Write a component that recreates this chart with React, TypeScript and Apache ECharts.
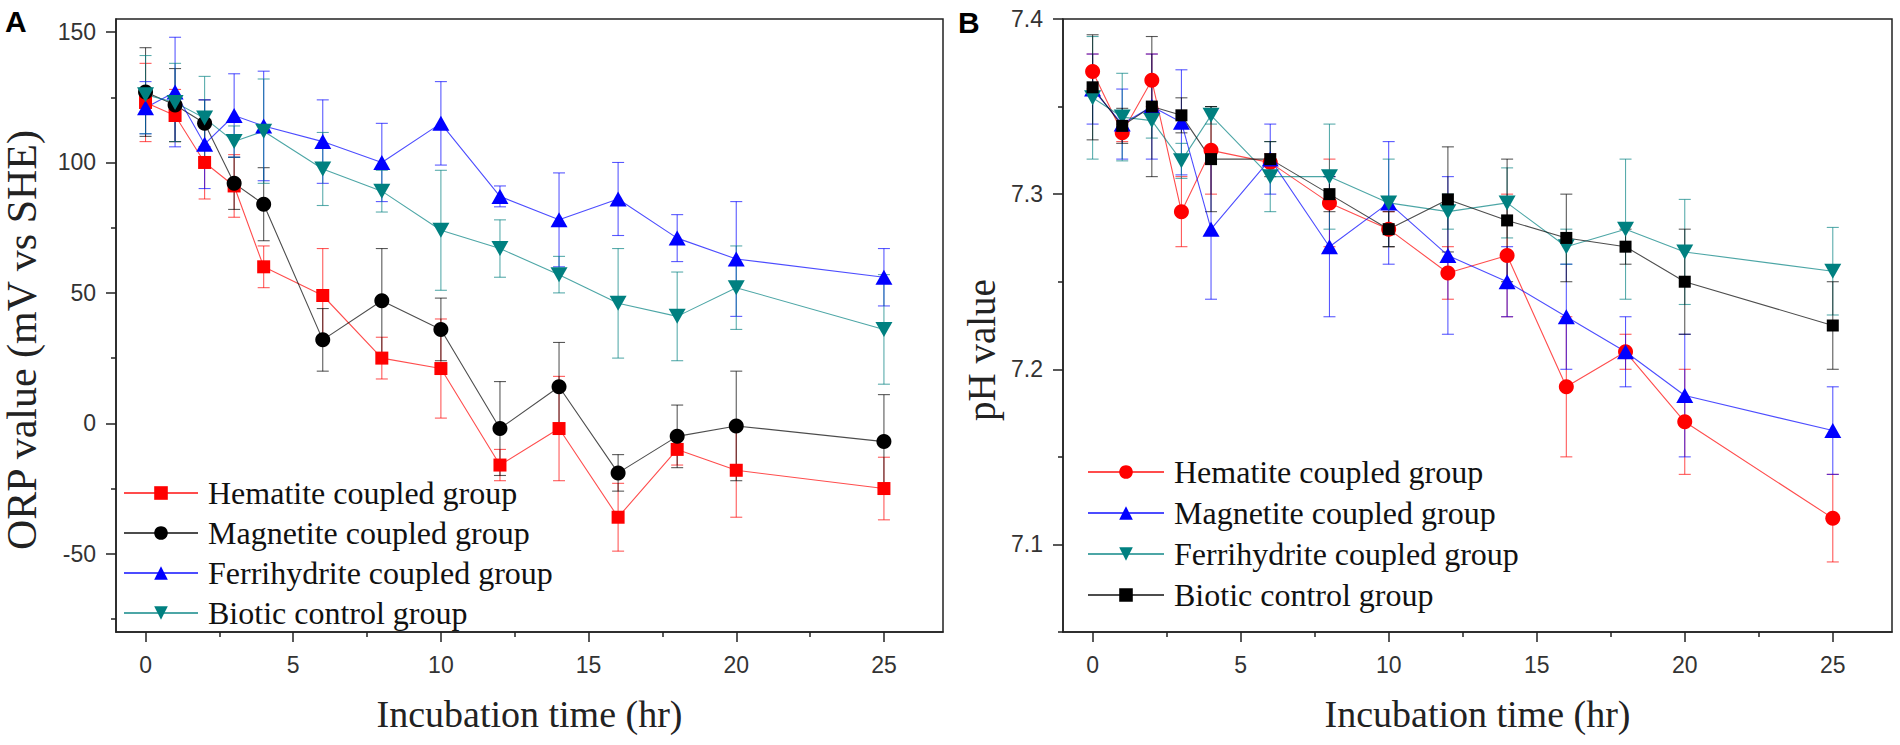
import { useEffect, useRef } from 'react';
import * as echarts from 'echarts';

// ---------- data ----------
const times = [0, 1, 2, 3, 4, 6, 8, 10, 12, 14, 16, 18, 20, 25];

const groupNames = [
  'Hematite coupled group',
  'Magnetite coupled group',
  'Ferrihydrite coupled group',
  'Biotic control group',
];

// Panel A: ORP value (mV vs SHE)
const hematiteORP = [123, 118, 100, 91, 60, 49, 25, 21, -16, -2, -36, -10, -18, -25];
const hematiteORPErr = [15, 10, 14, 12, 8, 18, 8, 19, 6, 20, 13, 6, 18, 12];
const magnetiteORP = [127, 122, 115, 92, 84, 32, 47, 36, -2, 14, -19, -5, -1, -7];
const magnetiteORPErr = [17, 14, 9, 10, 14, 12, 20, 12, 18, 17, 7, 12, 21, 18];
const ferrihydriteORP = [121, 127, 107, 118, 114, 108, 100, 115, 87, 78, 86, 71, 63, 56];
const ferrihydriteORPErr = [10, 21, 17, 16, 21, 16, 15, 16, 4, 18, 14, 9, 22, 11];
const bioticORP = [126, 123, 117, 108, 112, 97.5, 89, 74, 67, 57, 46, 41, 52, 36];
const bioticORPErr = [15, 15, 16, 6, 20, 14, 8, 23, 11, 7, 21, 17, 16, 21];

// Panel B: pH value
const hematitePH = [7.37, 7.335, 7.365, 7.29, 7.325, 7.318, 7.295, 7.28, 7.255, 7.265, 7.19, 7.21, 7.17, 7.115];
const hematitePHErr = [0.01, 0.005, 0.015, 0.02, 0.025, 0.005, 0.025, 0.01, 0.015, 0.035, 0.04, 0.01, 0.03, 0.025];
const magnetitePH = [7.36, 7.34, 7.35, 7.341, 7.28, 7.32, 7.27, 7.295, 7.265, 7.25, 7.23, 7.21, 7.185, 7.165];
const magnetitePHErr = [0.02, 0.02, 0.03, 0.03, 0.04, 0.02, 0.04, 0.035, 0.045, 0.02, 0.03, 0.02, 0.035, 0.025];
const ferrihydritePH = [7.355, 7.344, 7.342, 7.319, 7.345, 7.31, 7.31, 7.295, 7.29, 7.295, 7.27, 7.28, 7.267, 7.256];
const ferrihydritePHErr = [0.035, 0.025, 0.01, 0.01, 0.005, 0.02, 0.03, 0.025, 0.01, 0.02, 0.01, 0.04, 0.03, 0.025];
const bioticPH = [7.361, 7.339, 7.35, 7.345, 7.32, 7.32, 7.3, 7.28, 7.297, 7.285, 7.275, 7.27, 7.25, 7.225];
const bioticPHErr = [0.03, 0.01, 0.04, 0.01, 0.03, 0.01, 0.01, 0.01, 0.03, 0.035, 0.025, 0.01, 0.03, 0.025];

// tick labels
const xMajorTicks = [0, 5, 10, 15, 20, 25];
const xMinorTicks = [2.5, 7.5, 12.5, 17.5, 22.5];
const orpMajorTicks = [-50, 0, 50, 100, 150];
const orpMinorTicks = [-75, -25, 25, 75, 125];
const phMajorTicks = [7.1, 7.2, 7.3, 7.4];
const phMinorTicks = [7.05, 7.15, 7.25, 7.35];

const xTitle = 'Incubation time (hr)';
const orpTitle = 'ORP value (mV vs SHE)';
const phTitle = 'pH value';

// ---------- styles ----------
const RED = '#ff0000';
const BLACK = '#000000';
const BLUE = '#0000ff';
const TEAL = '#008080';
const DOWN_TRI = 'path://M0,0L20,0L10,17Z';
const PH_SUFFIX = ' (pH)';

const AXIS_COLOR = '#222';
const SANS = '"Liberation Sans", Arial, sans-serif';
const SERIF = '"Liberation Serif", "Times New Roman", serif';

function makeXAxes(gridIndex: number) {
  const common = {
    type: 'value',
    gridIndex,
    min: -1,
    max: 27,
    position: 'bottom',
    splitLine: { show: false },
  };
  return [
    {
      ...common,
      name: xTitle,
      nameLocation: 'middle',
      nameGap: 63,
      nameTextStyle: { fontFamily: SERIF, fontSize: 38, color: '#222' },
      axisLine: { show: true, onZero: false, lineStyle: { color: AXIS_COLOR, width: 1.5 } },
      axisTick: { show: true, length: 10, customValues: xMajorTicks, lineStyle: { color: AXIS_COLOR, width: 1.5 } },
      axisLabel: {
        show: true,
        customValues: xMajorTicks,
        margin: 21,
        fontFamily: SANS,
        fontSize: 23,
        color: '#333',
      },
    },
    {
      ...common,
      axisLine: { show: false, onZero: false },
      axisTick: { show: true, length: 5, customValues: xMinorTicks, lineStyle: { color: AXIS_COLOR, width: 1.5 } },
      axisLabel: { show: false, customValues: xMinorTicks },
    },
  ];
}

function makeYAxes(
  gridIndex: number,
  min: number,
  max: number,
  major: number[],
  minor: number[],
  title: string,
  gap: number,
  fontSize: number,
  fmt: (v: number) => string,
  padding: number[],
) {
  const common = {
    type: 'value',
    gridIndex,
    min,
    max,
    position: 'left',
    splitLine: { show: false },
  };
  return [
    {
      ...common,
      name: title,
      nameLocation: 'middle',
      nameGap: gap,
      nameTextStyle: { fontFamily: SERIF, fontSize, color: '#222', padding },
      axisLine: { show: true, onZero: false, lineStyle: { color: AXIS_COLOR, width: 1.5 } },
      axisTick: { show: true, length: 10, customValues: major, lineStyle: { color: AXIS_COLOR, width: 1.5 } },
      axisLabel: {
        show: true,
        customValues: major,
        margin: 20,
        fontFamily: SANS,
        fontSize: 23,
        color: '#333',
        formatter: fmt,
      },
    },
    {
      ...common,
      axisLine: { show: false, onZero: false },
      axisTick: { show: true, length: 5, customValues: minor, lineStyle: { color: AXIS_COLOR, width: 1.5 } },
      axisLabel: { show: false, customValues: minor },
    },
  ];
}

function lineSeries(
  name: string,
  values: number[],
  color: string,
  symbol: string,
  symbolSize: number | number[],
  xAxisIndex: number,
  yAxisIndex: number,
) {
  return {
    type: 'line',
    name,
    xAxisIndex,
    yAxisIndex,
    data: times.map((t, i) => [t, values[i]]),
    symbol,
    symbolSize,
    showAllSymbol: true,
    z: 3,
    lineStyle: { color, width: 1.1, opacity: 0.7 },
    itemStyle: { color, opacity: 1 },
    emphasis: { disabled: true },
  };
}

function errorSeries(
  values: number[],
  errs: number[],
  color: string,
  xAxisIndex: number,
  yAxisIndex: number,
) {
  return {
    type: 'custom',
    xAxisIndex,
    yAxisIndex,
    z: 2,
    silent: true,
    encode: { x: 0, y: [1, 2] },
    data: times.map((t, i) => [t, values[i] - errs[i], values[i] + errs[i]]),
    renderItem: (_params: any, api: any) => {
      const x = api.value(0);
      const lo = api.coord([x, api.value(1)]);
      const hi = api.coord([x, api.value(2)]);
      const hw = 6;
      const style = { stroke: color, lineWidth: 1.1, opacity: 0.65 };
      return {
        type: 'group',
        children: [
          { type: 'line', shape: { x1: hi[0], y1: hi[1], x2: lo[0], y2: lo[1] }, style },
          { type: 'line', shape: { x1: hi[0] - hw, y1: hi[1], x2: hi[0] + hw, y2: hi[1] }, style },
          { type: 'line', shape: { x1: lo[0] - hw, y1: lo[1], x2: lo[0] + hw, y2: lo[1] }, style },
        ],
      };
    },
  };
}

const legendText = { fontFamily: SERIF, fontSize: 32, color: '#111', padding: [0, 0, 0, 5] };

function buildOption() {
  const phNames = groupNames.map((n) => n + PH_SUFFIX);
  return {
    animation: false,
    backgroundColor: '#ffffff',
    grid: [
      { left: 116, top: 19, width: 827, height: 613, show: true, borderColor: AXIS_COLOR, borderWidth: 1.5, backgroundColor: 'transparent' },
      { left: 1063, top: 19, width: 829, height: 613, show: true, borderColor: AXIS_COLOR, borderWidth: 1.5, backgroundColor: 'transparent' },
    ],
    xAxis: [...makeXAxes(0), ...makeXAxes(1)],
    yAxis: [
      ...makeYAxes(0, -80, 155, orpMajorTicks, orpMinorTicks, orpTitle, 73, 42, (v: number) => String(v), [0, 29, 0, 0]),
      ...makeYAxes(1, 7.05, 7.4, phMajorTicks, phMinorTicks, phTitle, 62, 39, (v: number) => v.toFixed(1), [0, 49, 0, 0]),
    ],
    legend: [
      {
        data: groupNames,
        orient: 'vertical',
        left: 118,
        top: 472,
        itemWidth: 74,
        itemHeight: 17,
        itemGap: 8,
        selectedMode: false,
        textStyle: legendText,
      },
      {
        data: phNames,
        orient: 'vertical',
        left: 1082,
        top: 451,
        itemWidth: 76,
        itemHeight: 17,
        itemGap: 9,
        selectedMode: false,
        textStyle: legendText,
        formatter: (name: string) => name.replace(PH_SUFFIX, ''),
      },
    ],
    graphic: [
      { type: 'text', left: 5, top: 6, style: { text: 'A', font: `bold 30px ${SANS}`, fill: '#000' } },
      { type: 'text', left: 958, top: 7, style: { text: 'B', font: `bold 30px ${SANS}`, fill: '#000' } },
    ],
    series: [
      // Panel A error bars
      errorSeries(hematiteORP, hematiteORPErr, RED, 0, 0),
      errorSeries(magnetiteORP, magnetiteORPErr, BLACK, 0, 0),
      errorSeries(ferrihydriteORP, ferrihydriteORPErr, BLUE, 0, 0),
      errorSeries(bioticORP, bioticORPErr, TEAL, 0, 0),
      // Panel A lines
      lineSeries(groupNames[0], hematiteORP, RED, 'rect', 13, 0, 0),
      lineSeries(groupNames[1], magnetiteORP, BLACK, 'circle', 15, 0, 0),
      lineSeries(groupNames[2], ferrihydriteORP, BLUE, 'triangle', [17, 15], 0, 0),
      lineSeries(groupNames[3], bioticORP, TEAL, DOWN_TRI, [17, 15], 0, 0),
      // Panel B error bars
      errorSeries(hematitePH, hematitePHErr, RED, 2, 2),
      errorSeries(magnetitePH, magnetitePHErr, BLUE, 2, 2),
      errorSeries(ferrihydritePH, ferrihydritePHErr, TEAL, 2, 2),
      errorSeries(bioticPH, bioticPHErr, BLACK, 2, 2),
      // Panel B lines
      lineSeries(phNames[0], hematitePH, RED, 'circle', 15, 2, 2),
      lineSeries(phNames[1], magnetitePH, BLUE, 'triangle', [17, 15], 2, 2),
      lineSeries(phNames[2], ferrihydritePH, TEAL, DOWN_TRI, [17, 15], 2, 2),
      lineSeries(phNames[3], bioticPH, BLACK, 'rect', 12, 2, 2),
    ],
  };
}

export default function App() {
  const ref = useRef<HTMLDivElement>(null);
  useEffect(() => {
    if (!ref.current) return;
    const chart = echarts.init(ref.current, null, { renderer: 'svg' });
    chart.setOption(buildOption() as any);
    return () => chart.dispose();
  }, []);
  return (
    <div
      ref={ref}
      style={{ position: 'absolute', left: 0, top: 0, width: 1900, height: 745, background: '#ffffff' }}
    />
  );
}
